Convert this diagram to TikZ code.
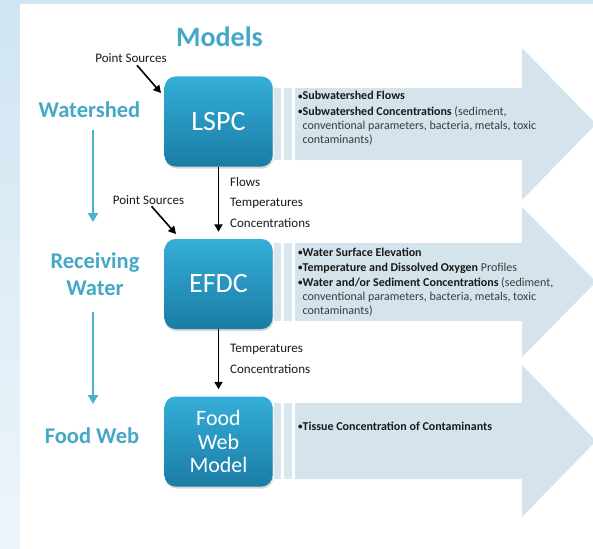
\documentclass[tikz,border=0pt]{standalone}
\usepackage{fontspec}
\setmainfont{Carlito}
\usetikzlibrary{shadows,arrows.meta}
\definecolor{tealtxt}{HTML}{45A8C6}
\definecolor{tealarr}{HTML}{4DAFCD}
\definecolor{bgblue}{HTML}{CFE5F2}
\definecolor{bgpale}{HTML}{EEF5FA}
\definecolor{arrowfill}{HTML}{D4E3EC}
\definecolor{stripfill}{HTML}{D8E6EE}
\definecolor{boxtop}{HTML}{34AED8}
\definecolor{boxbot}{HTML}{1A7CA5}
\definecolor{txtdark}{HTML}{1A1A1A}
\definecolor{txtgray}{HTML}{3C3C3C}
\newcommand{\smallbul}{\raisebox{0.6pt}{\fontsize{9}{9}\selectfont •}}
\newcommand{\bulgap}{\hphantom{\smallbul}}
\begin{document}
\begin{tikzpicture}[x=1pt,y=-1pt,
  model/.style={rounded corners=11pt, top color=boxtop, bottom color=boxbot,
    draw=none, text=white, minimum width=108pt, minimum height=90pt,
    inner sep=0pt, align=center,
    drop shadow={opacity=0.3, shadow xshift=0.8pt, shadow yshift=-2pt}},
  bigtitle/.style={font=\fontsize{28}{30}\selectfont\bfseries, text=tealtxt, inner sep=0pt, anchor=base},
  sidelabel/.style={font=\fontsize{22.5}{24}\selectfont\bfseries, text=tealtxt, inner sep=0pt, anchor=base},
  small/.style={font=\fontsize{13}{15}\selectfont, text=txtdark, inner sep=0pt},
  info/.style={font=\fontsize{12}{14}\selectfont, text=txtgray, inner sep=0pt, anchor=base west},
  flowarrow/.style={draw=black, line width=1.9pt, -{Triangle[length=7.5pt,width=8pt]}},
  levelarrow/.style={draw=tealarr, line width=2.6pt, -{Triangle[length=9pt,width=10pt]}},
  bigarrow/.style={fill=arrowfill, draw=none},
  strip/.style={fill=stripfill, draw=none}
]
\useasboundingbox (0,0) rectangle (593,548);
% background
\fill[bgblue] (0,0) rectangle (593,4);
\shade[top color=bgblue, bottom color=bgpale] (0,0) rectangle (20,548);
\fill[white] (20,4) rectangle (593,548);

% big output arrows
\fill[bigarrow] (295,88) -- (522,88) -- (522,48) -- (596,124) -- (522,200) -- (522,160) -- (295,160) -- cycle;
\fill[strip] (274,88) rectangle (281,160);
\fill[strip] (284,88) rectangle (292,160);

\fill[bigarrow] (295,243) -- (522,243) -- (522,207) -- (596,282) -- (522,357) -- (522,321) -- (295,321) -- cycle;
\fill[strip] (274,243) rectangle (281,321);
\fill[strip] (284,243) rectangle (292,321);

\fill[bigarrow] (295,403) -- (522,403) -- (522,365) -- (596,441) -- (522,517) -- (522,479) -- (295,479) -- cycle;
\fill[strip] (274,403) rectangle (281,479);
\fill[strip] (284,403) rectangle (292,479);

% model boxes
\node[model, font=\fontsize{28}{30}\selectfont] (lspc) at (218.5,121.5) {LSPC};
\node[model, font=\fontsize{28}{30}\selectfont] (efdc) at (218.5,284) {EFDC};
\node[model, font=\fontsize{22}{23.5}\selectfont] (fwm) at (218.5,441.5) {Food\\Web\\Model};

% titles and side labels
\node[bigtitle] (models) at (219.5,47) {Models};
\node[sidelabel] (ws) at (89.5,118) {Watershed};
\node[sidelabel] (rw1) at (95,268) {Receiving};
\node[sidelabel] (rw2) at (95,295) {Water};
\node[sidelabel] (fw) at (92,443) {Food Web};

% level arrows
\coordinate (la1) at (93,130);
\coordinate (lb1) at (93,222);
\coordinate (la2) at (93,312);
\coordinate (lb2) at (93,404);
\draw[levelarrow] (la1) -- (lb1);
\draw[levelarrow] (la2) -- (lb2);

% point sources
\node[small, anchor=base] (ps1) at (131,63) {Point Sources};
\node[small, anchor=base] (ps2) at (148.5,204) {Point Sources};
\coordinate (ps1end) at (161,93);
\coordinate (ps2end) at (176,234);
\draw[flowarrow, line width=1.6pt] ([xshift=6pt,yshift=-2pt]ps1.south) -- (ps1end);
\draw[flowarrow, line width=1.6pt] ([xshift=3pt,yshift=-2pt]ps2.south) -- (ps2end);

% flows between models
\draw[flowarrow, shorten >=7pt] (lspc) -- (efdc);
\draw[flowarrow, shorten >=7pt] (efdc) -- (fwm);
\node[small, anchor=base west] (f1) at (230,186) {Flows};
\node[small, anchor=base west] (f2) at (230,206.5) {Temperatures};
\node[small, anchor=base west] (f3) at (230,227) {Concentrations};
\node[small, anchor=base west] (f4) at (230,352) {Temperatures};
\node[small, anchor=base west] (f5) at (230,373) {Concentrations};

% output texts
\node[info] (o11) at (298,100) {\textcolor{txtdark}{\bfseries\smallbul Subwatershed Flows}};
\node[info] (o12) at (298,115.5) {\textcolor{txtdark}{\bfseries\smallbul Subwatershed Concentrations} (sediment,};
\node[info] (o13) at (298,129.5) {\bulgap conventional parameters, bacteria, metals, toxic};
\node[info] (o14) at (298,143.5) {\bulgap contaminants)};

\node[info] (o21) at (298,256) {\textcolor{txtdark}{\bfseries\smallbul Water Surface Elevation}};
\node[info] (o22) at (298,271) {\textcolor{txtdark}{\bfseries\smallbul Temperature and Dissolved Oxygen} Profiles};
\node[info] (o23) at (298,286) {\textcolor{txtdark}{\bfseries\smallbul Water and/or Sediment Concentrations} (sediment,};
\node[info] (o24) at (298,300) {\bulgap conventional parameters, bacteria, metals, toxic};
\node[info] (o25) at (298,314) {\bulgap contaminants)};

\node[info] (o31) at (298,430) {\textcolor{txtdark}{\bfseries\smallbul Tissue Concentration of Contaminants}};
\end{tikzpicture}
\end{document}
